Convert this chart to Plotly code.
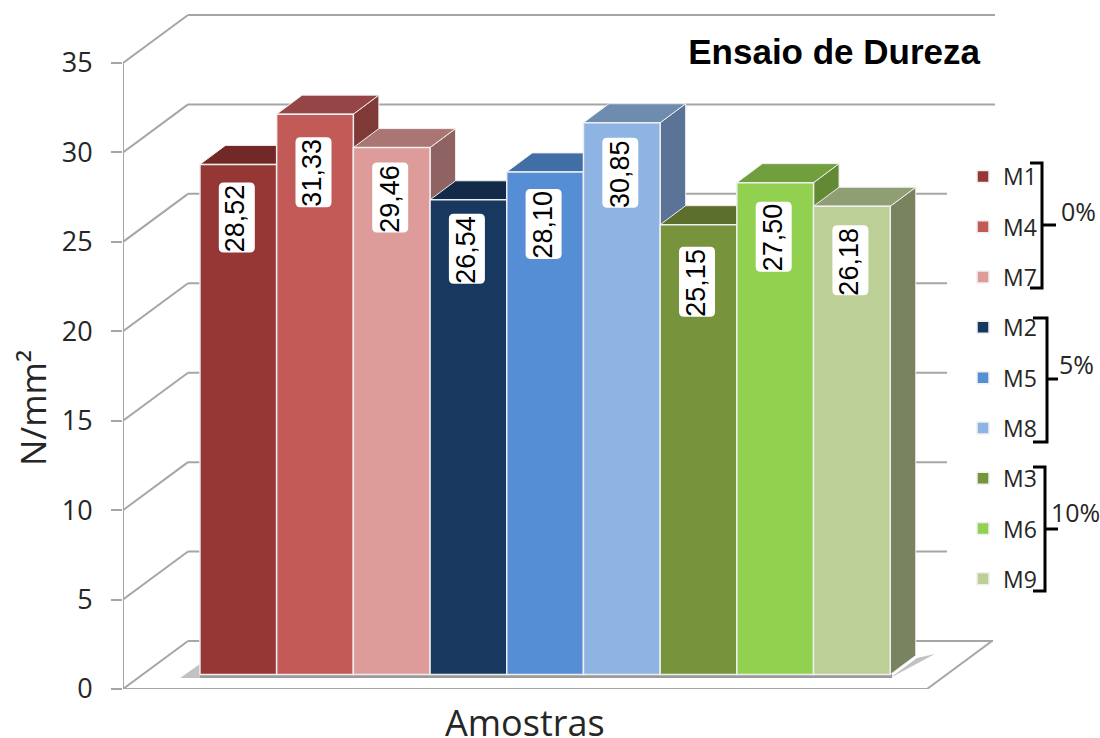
import plotly.graph_objects as go

# ---- data ----
samples = ["M1", "M4", "M7", "M2", "M5", "M8", "M3", "M6", "M9"]
values = [28.52, 31.33, 29.46, 26.54, 28.10, 30.85, 25.15, 27.50, 26.18]
y_ticks = [0, 5, 10, 15, 20, 25, 30, 35]
groups = ["0%", "5%", "10%"]

# ---- styles ----
front_colors = ["#953735", "#C25A57", "#DD9C9A", "#19385F", "#558ED5", "#8EB4E3", "#77933C", "#92D050", "#BBCF96"]
top_colors = ["#722826", "#954545", "#AA7573", "#132B49", "#426EA6", "#6E8BB0", "#5C6F2D", "#719F3E", "#8F9E73"]
side_colors = ["#7F3A38", "#7F3A38", "#8E6362", "#102540", "#3A5F8F", "#5A7397", "#4F6227", "#628A34", "#79835F"]
label_drop_px = [53, 58, 50, 49, 52, 50, 57, 54, 54]
GRID = "#A6A6A6"
W, H = 1100, 738
PX_L, PX_B = 123, 689
PX_PER_UNIT = 17.886
BAR_STEP = 76.7
BAR0_PX = 238.3


def xd(px):
    return (px - BAR0_PX) / BAR_STEP


def yd(px):
    return (PX_B - px) / PX_PER_UNIT


def dx(px):
    return px / BAR_STEP


def dy(px):
    return px / PX_PER_UNIT


def xp(px):
    return (px - PX_L) / (W - PX_L)


def yp(px):
    return (PX_B - px) / PX_B


def path(points):
    return "M" + " L".join(f"{x:.4f},{y:.4f}" for x, y in points) + " Z"


x_front = xd(PX_L)
wall_dx, wall_dy = dx(65), dy(48)
depth_x, depth_y = dx(25.5), dy(19)
base = dy(14.5)
half = 0.5
shapes = []


def line(x0, y0, x1, y1, color=GRID, width=2, layer="below"):
    shapes.append(dict(type="line", xref="x", yref="y", x0=x0, y0=y0, x1=x1, y1=y1,
                       line=dict(color=color, width=width), layer=layer))


# wall and floor lines
for t in y_ticks:
    end_px = 995 if t >= 30 else (993 if t == 0 else 947)
    line(x_front, t, x_front + wall_dx, t + wall_dy)
    line(x_front + wall_dx, t + wall_dy, xd(end_px), t + wall_dy)
line(x_front, 0, x_front, y_ticks[-1])
line(x_front, 0, xd(927), 0)
line(xd(927), 0, xd(927) + wall_dx, wall_dy)

# floor shadow
shadow_polys = [
    ([(xd(200), yd(678)), (xd(892), yd(678)), (xd(892), yd(674)), (xd(200), yd(674))], "#9A9A9A", 1),
    ([(xd(180), yd(678)), (xd(200), yd(664)), (xd(200), yd(678))], "#9A9A9A", 0.6),
    ([(xd(890), yd(678)), (xd(917), yd(658)), (xd(935), yd(654))], "#9A9A9A", 0.6),
]
for pts, col, op in shadow_polys:
    shapes.append(dict(type="path", xref="x", yref="y", path=path(pts), fillcolor=col,
                       opacity=op, line=dict(width=0), layer="below"))

# 3-D top and side faces, computed from each value
for i, v in enumerate(values):
    top = base + v
    r, l = i + half, i - half
    shapes.append(dict(type="path", xref="x", yref="y",
                       path=path([(r, base), (r + depth_x, base + depth_y), (r + depth_x, top + depth_y), (r, top)]),
                       fillcolor=side_colors[i], line=dict(color="#EFEFEF", width=1), layer="below"))
    shapes.append(dict(type="path", xref="x", yref="y",
                       path=path([(l, top), (l + depth_x, top + depth_y), (r + depth_x, top + depth_y), (r, top)]),
                       fillcolor=top_colors[i], line=dict(color="#EFEFEF", width=1), layer="below"))

# rounded white boxes behind the value labels
annotations = []
box_w, box_h, rad = dx(36), dy(70), 5
for i, v in enumerate(values):
    cy = base + v - dy(label_drop_px[i])
    cx = i - dx(1.5)
    xl, xr = cx - box_w / 2, cx + box_w / 2
    yb, yt = cy - box_h / 2, cy + box_h / 2
    rx, ry = dx(rad), dy(rad)
    p = (f"M{xl + rx:.4f},{yt:.4f} L{xr - rx:.4f},{yt:.4f} Q{xr:.4f},{yt:.4f} {xr:.4f},{yt - ry:.4f} "
         f"L{xr:.4f},{yb + ry:.4f} Q{xr:.4f},{yb:.4f} {xr - rx:.4f},{yb:.4f} "
         f"L{xl + rx:.4f},{yb:.4f} Q{xl:.4f},{yb:.4f} {xl:.4f},{yb + ry:.4f} "
         f"L{xl:.4f},{yt - ry:.4f} Q{xl:.4f},{yt:.4f} {xl + rx:.4f},{yt:.4f} Z")
    shapes.append(dict(type="path", xref="x", yref="y", path=p, fillcolor="white",
                       line=dict(width=0), layer="above"))
    annotations.append(dict(x=cx - dx(1), y=cy - dy(1), xref="x", yref="y", showarrow=False,
                            xanchor="center", yanchor="middle",
                            text=f"{v:.2f}".replace(".", ","), textangle=-90,
                            font=dict(family="Liberation Sans", size=27, color="black")))

# group brackets
BRACKET_W = 3
brackets = [
    (1030, 1042, 163, 288, 225, 1056, 1078, 211),
    (1033, 1047, 318, 442, 379, 1058, 1076, 364),
    (1033, 1045, 467, 591, 529, 1058, 1075, 512),
]
for g, (xa, xb, y0, y1, ym, xt, tx, ty) in zip(groups, brackets):
    pts = [(xa, y0), (xb, y0), (xb, y1), (xa, y1)]
    d = "M" + " L".join(f"{xd(a):.4f},{yd(b):.4f}" for a, b in pts)
    shapes.append(dict(type="path", xref="x", yref="y", path=d,
                       line=dict(color="black", width=BRACKET_W), layer="above"))
    line(xd(xb), yd(ym), xd(xt), yd(ym), color="black", width=BRACKET_W, layer="above")
    annotations.append(dict(x=xd(tx), y=yd(ty), xref="x", yref="y", showarrow=False, text=g,
                            xanchor="center", yanchor="middle",
                            font=dict(family="Open Sans", size=25, color="#262626")))

annotations.append(dict(x=xp(525), y=yp(722), xref="paper", yref="paper", showarrow=False, text="Amostras",
                        xanchor="center", yanchor="middle",
                        font=dict(family="Open Sans", size=36, color="#262626")))
annotations.append(dict(x=xp(33), y=yp(408), xref="paper", yref="paper", showarrow=False, text="N/mm²",
                        xanchor="center", yanchor="middle",
                        textangle=-90, font=dict(family="Open Sans", size=35, color="#262626")))

fig = go.Figure()
for i, (name, v) in enumerate(zip(samples, values)):
    fig.add_trace(go.Bar(x=[i], y=[v], base=base, width=1, name=name, legendgroup=name,
                         marker=dict(color=front_colors[i], line=dict(color="#EFEFEF", width=1.5))))

fig.update_layout(
    width=W, height=H, margin=dict(l=PX_L, r=0, t=0, b=H - PX_B),
    paper_bgcolor="white", plot_bgcolor="white", barmode="overlay",
    title=dict(text="<b>Ensaio de Dureza</b>", xref="container", yref="container",
               x=980 / W, xanchor="right", y=1 - 52 / H, yanchor="middle",
               font=dict(family="Liberation Sans", size=35, color="black")),
    xaxis=dict(range=[xd(PX_L), xd(W)], showgrid=False, zeroline=False, showticklabels=False,
               ticks="", showline=False, fixedrange=True),
    yaxis=dict(range=[0, yd(0)], tickmode="array", tickvals=y_ticks, showgrid=False, zeroline=False,
               showline=False, ticks="outside", ticklen=11, tickwidth=2, tickcolor=GRID, fixedrange=True,
               ticklabelstandoff=13,
               tickfont=dict(family="Open Sans", size=27, color="#262626")),
    legend=dict(x=xp(963), xanchor="left", y=yp(155), yanchor="top",
                tracegroupgap=17.4, font=dict(family="Open Sans", size=23, color="#262626"),
                bgcolor="rgba(0,0,0,0)", traceorder="grouped"),
    shapes=shapes, annotations=annotations, showlegend=True,
)
fig.write_html("out.html", post_script="document.body.style.margin='0';", config={"displayModeBar": False})
